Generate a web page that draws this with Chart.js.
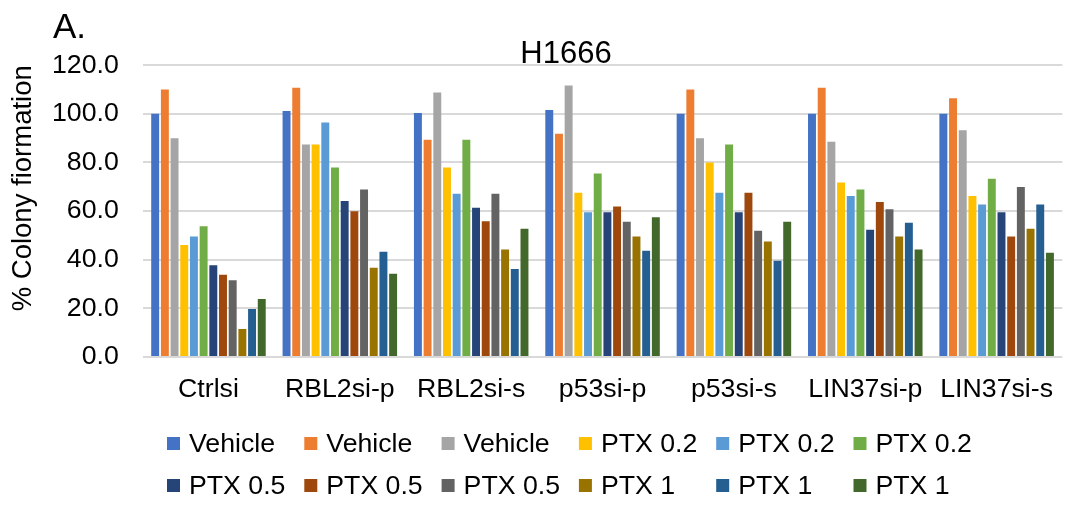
<!DOCTYPE html>
<html>
<head>
<meta charset="utf-8">
<script src="https://cdn.jsdelivr.net/npm/chart.js@4.4.1/dist/chart.umd.min.js"></script>
<style>
html,body{margin:0;padding:0;background:#fff;}
#wrap{width:1070px;height:506px;}
</style>
</head>
<body>
<div id="wrap"><canvas id="c" width="1070" height="506"></canvas></div>
<script>
const categories = ['Ctrlsi', 'RBL2si-p', 'RBL2si-s', 'p53si-p', 'p53si-s', 'LIN37si-p', 'LIN37si-s'];
const seriesLabels = ['Vehicle', 'Vehicle', 'Vehicle', 'PTX 0.2', 'PTX 0.2', 'PTX 0.2', 'PTX 0.5', 'PTX 0.5', 'PTX 0.5', 'PTX 1', 'PTX 1', 'PTX 1'];
const yTicks = [0, 20, 40, 60, 80, 100, 120];

const vehicleA = [100, 101.2, 100.3, 101.6, 100, 100, 100];
const vehicleB = [110, 110.7, 89.3, 91.8, 110, 110.7, 106.4];
const vehicleC = [90, 87.4, 108.8, 111.6, 90, 88.5, 93.2];
const ptx02A = [46, 87.4, 77.9, 67.5, 80, 71.8, 66.2];
const ptx02B = [49.5, 96.4, 67.1, 59.5, 67.5, 66.2, 62.7];
const ptx02C = [53.8, 77.9, 89.3, 75.5, 87.4, 68.9, 73.3];
const ptx05A = [37.7, 64.1, 61.4, 59.5, 59.5, 52.3, 59.5];
const ptx05B = [33.8, 59.9, 55.8, 61.9, 67.5, 63.7, 49.5];
const ptx05C = [31.5, 68.9, 67.1, 55.6, 51.9, 60.8, 69.9];
const ptx1A = [11.5, 36.7, 44.2, 49.5, 47.5, 49.5, 52.7];
const ptx1B = [19.7, 43.3, 36.2, 43.7, 39.6, 55.2, 62.7];
const ptx1C = [23.8, 34.2, 52.7, 57.5, 55.6, 44.2, 42.9];

const seriesValues = [vehicleA, vehicleB, vehicleC, ptx02A, ptx02B, ptx02C, ptx05A, ptx05B, ptx05C, ptx1A, ptx1B, ptx1C];
const seriesColors = ['#4472C4', '#ED7D31', '#A5A5A5', '#FFC000', '#5B9BD5', '#70AD47', '#264478', '#9E480E', '#636363', '#997300', '#255E91', '#43682B'];

const FONT = '"Liberation Sans", Arial, sans-serif';

const datasets = seriesValues.map((vals, i) => ({
  label: seriesLabels[i],
  data: vals,
  backgroundColor: seriesColors[i],
  borderWidth: 0,
  categoryPercentage: 0.885,
  barPercentage: 0.82
}));

const extras = {
  id: 'extras',
  afterLayout(chart) {
    const t = chart.titleBlock;
    if (t) { t.left += 31; t.right += 31; }
  },
  afterDraw(chart) {
    const ctx = chart.ctx;
    ctx.save();
    // panel letter
    ctx.fillStyle = '#000';
    ctx.font = '35px ' + FONT;
    ctx.textAlign = 'left';
    ctx.textBaseline = 'alphabetic';
    ctx.fillText('A.', 53, 38);
    // legend grid (6 columns x 2 rows)
    ctx.font = '26.7px ' + FONT;
    ctx.textBaseline = 'middle';
    chart.data.datasets.forEach((ds, i) => {
      const col = i % 6, row = Math.floor(i / 6);
      const bx = 167 + col * 137.3;
      const cy = 443.5 + row * 42;
      ctx.fillStyle = ds.backgroundColor;
      ctx.fillRect(bx, cy - 6.5, 13, 13);
      ctx.fillStyle = '#000';
      ctx.fillText(ds.label, bx + 22, cy + 1);
    });
    ctx.restore();
  }
};

new Chart(document.getElementById('c'), {
  type: 'bar',
  data: { labels: categories, datasets },
  plugins: [extras],
  options: {
    responsive: false,
    animation: false,
    layout: { padding: { left: 0, right: 0, top: 0, bottom: 83 } },
    plugins: {
      legend: { display: false },
      tooltip: { enabled: false },
      title: {
        display: true,
        text: 'H1666',
        color: '#000',
        font: { family: FONT, size: 31, weight: 'normal' },
        padding: { top: 36, bottom: -8 }
      }
    },
    scales: {
      x: {
        grid: { display: false, drawTicks: false },
        border: { display: false },
        ticks: { color: '#000', font: { family: FONT, size: 26.7 }, padding: 17, maxRotation: 0, autoSkip: false }
      },
      y: {
        min: 0,
        max: 120,
        afterBuildTicks(axis) { axis.ticks = yTicks.map(v => ({ value: v })); },
        grid: { color: '#D9D9D9', lineWidth: 2, drawTicks: false },
        border: { display: false },
        ticks: {
          color: '#000',
          font: { family: FONT, size: 26.7 },
          padding: 24,
          callback: v => Number(v).toFixed(1)
        },
        title: {
          display: true,
          text: '% Colony fiormation',
          align: 'end',
          color: '#000',
          font: { family: FONT, size: 27.5, weight: 'normal' },
          padding: { top: 7, bottom: -12 }
        }
      }
    }
  }
});
</script>
</body>
</html>
